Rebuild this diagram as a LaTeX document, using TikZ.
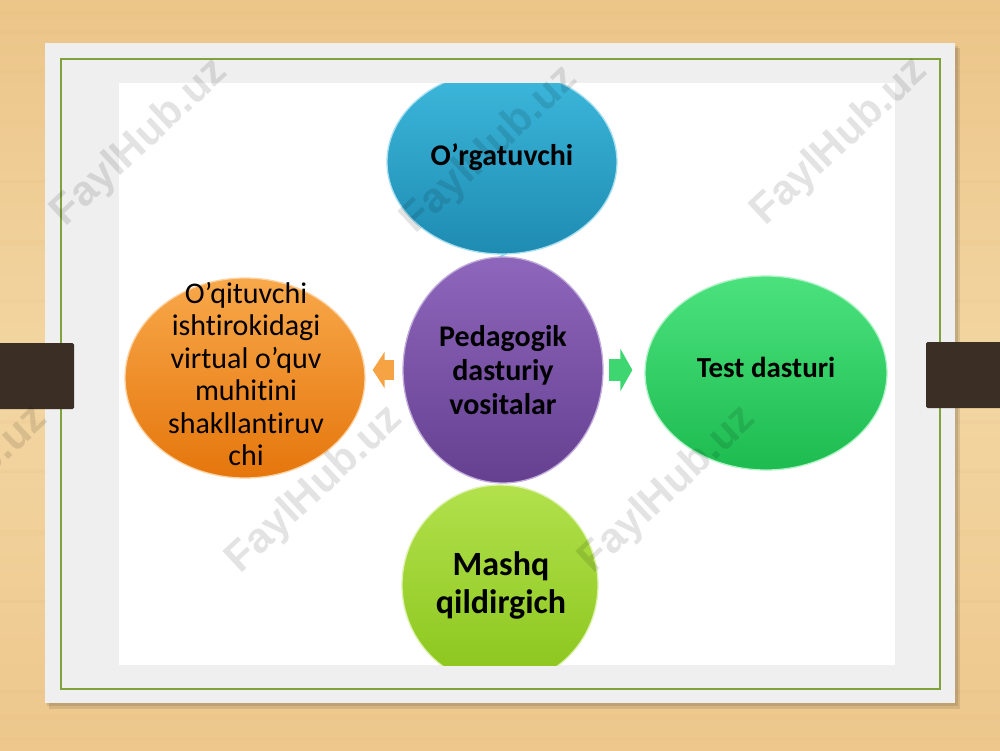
\documentclass[tikz,border=0pt]{standalone}
\usepackage{fontspec}
\setmainfont[RawFeature={-liga}]{Carlito}
\newfontfamily\wmfont{Liberation Sans}
\usetikzlibrary{shapes.geometric,arrows.meta,calc}
\pgfdeclarelayer{back}
\pgfdeclarelayer{mid}
\pgfsetlayers{back,mid,main}
\definecolor{wood}{HTML}{EDC78C}
\definecolor{woodd}{HTML}{DDAE6E}
\definecolor{woodl}{HTML}{F3D6A2}
\definecolor{slidec}{HTML}{EFEFEF}
\definecolor{framec}{HTML}{7FA33B}
\definecolor{tabc}{HTML}{3B2E25}
\definecolor{cyanA}{HTML}{3DB8DC}
\definecolor{cyanB}{HTML}{1E8BB2}
\definecolor{purA}{HTML}{8E66BC}
\definecolor{purB}{HTML}{654090}
\definecolor{orA}{HTML}{F8A84A}
\definecolor{orB}{HTML}{E5760C}
\definecolor{grA}{HTML}{4BE27E}
\definecolor{grB}{HTML}{1DBB50}
\definecolor{liA}{HTML}{B2E14C}
\definecolor{liB}{HTML}{8AC51C}
\tikzset{
  bubble/.style n args={3}{ellipse, inner sep=0pt, top color=#1, bottom color=#2, draw=#3, line width=1.3pt},
  btext/.style={font=\bfseries\fontsize{30}{34}\selectfont, align=center, text=black},
  blockarr/.style n args={4}{draw=#1, line width=#2, -{Triangle[width=#3, length=#4]}},
  wm/.style={font=\wmfont\bfseries\fontsize{42}{42}\selectfont, text=black, opacity=0.11, rotate=43}
}
\begin{document}
\begin{tikzpicture}[x=1pt,y=-1pt]
\useasboundingbox (0,0) rectangle (1000,750);
\begin{pgfonlayer}{back}
\shade[top color=wood!90!woodd, bottom color=wood, middle color=woodl] (0,0) rectangle (1000,750);
\foreach \yy/\w/\o in {12/3/0.08, 30/5/0.06, 70/3/0.07, 120/6/0.05, 180/3/0.07, 240/5/0.05, 300/3/0.07, 420/4/0.06, 470/3/0.07, 530/6/0.05, 600/3/0.07, 690/3/0.07, 715/5/0.06, 738/3/0.07}
  \fill[woodd, opacity=\o] (0,\yy) rectangle (1000,\yy+\w);
% slide shadow and slide
\fill[black, opacity=0.10] (49,48) rectangle (960,709);
\fill[black, opacity=0.10] (47,46) rectangle (958,706);
\fill[slidec] (45,43) rectangle (955,703);
\draw[framec, line width=1.6pt] (61,59) rectangle (940,689);
\fill[white] (119,83) rectangle (895,665);
% tabs
\fill[tabc, rounded corners=1.5pt] (-5,343) rectangle (74,409);
\fill[tabc, rounded corners=1.5pt] (926,342) rectangle (1005,408);
\end{pgfonlayer}

\begin{scope}
\clip (119,83) rectangle (895,665);
\node[bubble={cyanA}{cyanB}{cyanA!45!white}, minimum width=230pt, minimum height=184pt] (t) at (502,162) {};
\node[bubble={purA}{purB}{purA!55!white}, minimum width=200pt, minimum height=226pt] (c) at (503,370) {};
\node[bubble={orA}{orB}{orA!50!white}, minimum width=240pt, minimum height=200pt] (l) at (245,378) {};
\node[bubble={grA}{grB}{grA!45!white}, minimum width=242pt, minimum height=194pt] (r) at (766,373) {};
\node[bubble={liA}{liB}{liA!45!white}, minimum width=196pt, minimum height=200pt] (b) at (500,585) {};

\begin{pgfonlayer}{mid}
\draw[cyanA!55!white, line width=33pt] (c.north) -- (t.south);
\draw[cyanB!80!white, line width=1pt] ($(t.south)+(-16,-1)$) -- ($(t.south)+(16,-1)$);
\end{pgfonlayer}

\draw[blockarr={orA!90!orB}{20pt}{36pt}{12pt}, shorten <=8pt, shorten >=7pt] (c.west) -- (c.west -| l.east);
\draw[blockarr={grA!70!grB}{22pt}{42pt}{12pt}, shorten <=5pt, shorten >=12pt] (c.east) -- (c.east -| r.west);

\node[btext] (tt) at (502,157) {O’rgatuvchi};
\node[btext] (ct) at (503,370) {Pedagogik\\dasturiy\\vositalar};
\node[font=\fontsize{30}{32.5}\selectfont, align=center, text=black] (lt) at (246,374) {O’qituvchi\\ishtirokidagi\\virtual o’quv\\muhitini\\shakllantiruv\\chi};
\node[btext, font=\bfseries\fontsize{29}{34}\selectfont] (rt) at (766,367) {Test dasturi};
\node[btext, font=\bfseries\fontsize{34}{38}\selectfont] (bt) at (501,585) {Mashq\\qildirgich};
\end{scope}

% watermarks
\node[wm] (w1) at (140,143) {FaylHub.uz};
\node[wm] (w2) at (490,150) {FaylHub.uz};
\node[wm] (w3) at (840,142) {FaylHub.uz};
\node[wm] (w4) at (-40,490) {FaylHub.uz};
\node[wm] (w5) at (315,490) {FaylHub.uz};
\node[wm] (w6) at (668,490) {FaylHub.uz};
\end{tikzpicture}
\end{document}
